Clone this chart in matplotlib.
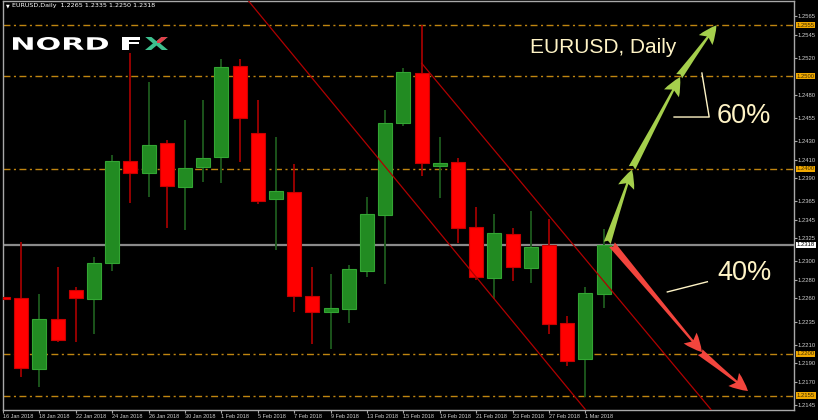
import matplotlib
matplotlib.use("Agg")
import numpy as np
import matplotlib.pyplot as plt
import matplotlib.transforms as mtransforms
from matplotlib.textpath import TextPath
from matplotlib.patches import PathPatch, Rectangle
from matplotlib.font_manager import FontProperties

W, H = 818, 420

# ---------------- data ----------------
dates = ["16 Jan", "17 Jan", "18 Jan", "19 Jan", "22 Jan", "23 Jan", "24 Jan", "25 Jan",
         "26 Jan", "29 Jan", "30 Jan", "31 Jan", "1 Feb", "2 Feb", "5 Feb", "6 Feb",
         "7 Feb", "8 Feb", "9 Feb", "12 Feb", "13 Feb", "14 Feb", "15 Feb", "16 Feb",
         "19 Feb", "20 Feb", "21 Feb", "22 Feb", "23 Feb", "26 Feb", "27 Feb", "28 Feb",
         "1 Mar", "2 Mar"]
opens = [1.2262, 1.2260, 1.2184, 1.2238, 1.2269, 1.2259, 1.2298, 1.2408,
         1.2395, 1.2428, 1.2380, 1.2402, 1.2413, 1.2511, 1.2439, 1.2367,
         1.2375, 1.2263, 1.2245, 1.2249, 1.2290, 1.2350, 1.2449, 1.2503,
         1.2403, 1.2407, 1.2337, 1.2282, 1.2330, 1.2293, 1.2318, 1.2233,
         1.2195, 1.2265]
highs = [1.2282, 1.2321, 1.2265, 1.2294, 1.2272, 1.2305, 1.2415, 1.2525,
         1.2494, 1.2431, 1.2453, 1.2474, 1.2519, 1.2519, 1.2474, 1.2434,
         1.2405, 1.2294, 1.2286, 1.2296, 1.2370, 1.2464, 1.2509, 1.2555,
         1.2434, 1.2412, 1.2359, 1.2351, 1.2336, 1.2354, 1.2346, 1.2241,
         1.2272, 1.2335]
lows = [1.2194, 1.2175, 1.2164, 1.2213, 1.2213, 1.2222, 1.2290, 1.2363,
        1.2370, 1.2336, 1.2334, 1.2386, 1.2385, 1.2407, 1.2362, 1.2312,
        1.2245, 1.2211, 1.2205, 1.2233, 1.2283, 1.2276, 1.2446, 1.2392,
        1.2368, 1.2320, 1.2280, 1.2259, 1.2279, 1.2277, 1.2222, 1.2187,
        1.2154, 1.2250]
closes = [1.2259, 1.2185, 1.2238, 1.2215, 1.2260, 1.2298, 1.2408, 1.2395,
          1.2426, 1.2381, 1.2401, 1.2412, 1.2510, 1.2455, 1.2365, 1.2376,
          1.2263, 1.2245, 1.2250, 1.2292, 1.2351, 1.2449, 1.2505, 1.2406,
          1.2406, 1.2336, 1.2283, 1.2331, 1.2294, 1.2316, 1.2232, 1.2192,
          1.2266, 1.2318]

xtick_idx = list(range(0, len(dates), 2))
xtick_labels = [dates[i] + " 2018" for i in xtick_idx]

ytick_values = [1.2565, 1.2545, 1.2520, 1.2480, 1.2455, 1.2430, 1.2410, 1.2390,
                1.2365, 1.2345, 1.2325, 1.2300, 1.2280, 1.2260, 1.2235, 1.2210,
                1.2190, 1.2170, 1.2145]
level_values = [1.2555, 1.2500, 1.2400, 1.2200, 1.2155]
last_price = 1.2318

upper_channel = [(23.0, 1.2514), (38.9, 1.2140)]
lower_channel = [(13.5, 1.2581), (32.0, 1.2140)]

green_arrows = [((33.2, 1.2320), (34.56, 1.2399)),
                ((34.56, 1.2401), (37.2, 1.2499)),
                ((37.15, 1.2500), (39.2, 1.2555))]
red_arrows = [((33.46, 1.2318), (38.4, 1.2202)),
              ((38.3, 1.2202), (40.93, 1.2160))]

pct_up_label, pct_down_label = "60%", "40%"
up_leader = ([38.4, 38.8, 36.87], [1.25034, 1.24559, 1.24559])
down_leader = ([36.5, 38.7], [1.2267, 1.2278])

# ---------------- figure ----------------
fig = plt.figure(figsize=(W / 100, H / 100), dpi=100, facecolor="black")
ax = fig.add_axes([3 / W, 10 / H, 791 / W, 409 / H])
ax.set_facecolor("black")
ax.set_xlim(0, 43.46)
ax.set_ylim(1.21395, 1.25812)

for sp in ax.spines.values():
    sp.set_color("#a8a8a8")
    sp.set_linewidth(1)

# levels
for v in level_values:
    ax.axhline(v, color="#c08510", lw=1.0, ls=(0, (5, 2.5, 1.5, 2.5)), zorder=1)
ax.axhline(last_price, color="#8a8a8a", lw=1.6, zorder=1)

# candles
x = np.arange(len(dates))
o = np.array(opens); c = np.array(closes); hi = np.array(highs); lo = np.array(lows)
up = c >= o
wick_col = np.where(up, "#1d5a1d", "#a00000")
ax.vlines(x, lo, hi, colors=list(wick_col), lw=1.3, zorder=2)
bottoms = np.minimum(o, c)
heights = np.maximum(np.abs(c - o), 0.00025)
ax.bar(x, heights, bottom=bottoms, width=0.77,
       color=np.where(up, "#228b22", "#ff0000"),
       edgecolor=np.where(up, "#33a533", "#c80000"), lw=0.8, zorder=3)

# channel
for line in (upper_channel, lower_channel):
    ax.plot([line[0][0], line[1][0]], [line[0][1], line[1][1]],
            color="#b00000", lw=0.9, zorder=4)

# arrows
style = "fancy,head_length=0.6,head_width=0.55,tail_width=0.24"
for tail, tip in green_arrows:
    ax.annotate("", xy=tip, xytext=tail, zorder=6,
                arrowprops=dict(arrowstyle=style, fc="#a5cf4c", ec="none",
                                shrinkA=0, shrinkB=0, mutation_scale=22))
for tail, tip in red_arrows:
    ax.annotate("", xy=tip, xytext=tail, zorder=6,
                arrowprops=dict(arrowstyle=style, fc="#f2453d", ec="none",
                                shrinkA=0, shrinkB=0, mutation_scale=22))

txt_col = "#fff4c6"
ax.text(28.95, 1.25315, "EURUSD, Daily", color=txt_col, fontsize=15,
        family="Liberation Sans", va="center", ha="left", zorder=7)
ax.text(39.2, 1.2457, pct_up_label, color=txt_col, fontsize=19.5,
        family="Liberation Sans", va="center", ha="left", zorder=7)
ax.text(39.25, 1.2287, pct_down_label, color=txt_col, fontsize=19.5,
        family="Liberation Sans", va="center", ha="left", zorder=7)
ax.plot(*up_leader, color=txt_col, lw=1, zorder=7)
ax.plot(*down_leader, color=txt_col, lw=1, zorder=7)

# axes ticks
ax.set_xticks(xtick_idx)
ax.set_xticklabels(xtick_labels, family="Liberation Sans")
for lbl in ax.get_xticklabels():
    lbl.set_ha("left")
ax.tick_params(axis="x", colors="#a8a8a8", labelcolor="#d0d0d0", length=2.5,
               width=0.8, pad=0.6, labelsize=4.0)
ax.yaxis.tick_right()
ax.set_yticks(ytick_values)
ax.set_yticklabels([f"{v:.4f}" for v in ytick_values], family="Liberation Sans")
ax.tick_params(axis="y", colors="#a8a8a8", labelcolor="#d0d0d0", length=2,
               width=0.8, pad=0.8, labelsize=4.2)

blend = mtransforms.blended_transform_factory(ax.transAxes, ax.transData)
for v in level_values:
    ax.text(1.0035, v, f"{v:.4f}", transform=blend, fontsize=4.2, color="#3a2a00",
            family="Liberation Sans", va="center", ha="left", zorder=10, clip_on=False,
            bbox=dict(boxstyle="square,pad=0.12", fc="#f0a800", ec="none"))
ax.text(1.0035, last_price, f"{last_price:.4f}", transform=blend, fontsize=4.2,
        family="Liberation Sans", color="black", va="center", ha="left", zorder=10,
        clip_on=False, bbox=dict(boxstyle="square,pad=0.12", fc="white", ec="none"))

# header
fig.text(6 / W, 1 - 6 / H, "▼", fontsize=3.5, color="white", va="center",
         family="DejaVu Sans")
fig.text(12 / W, 1 - 6 / H,
         f"EURUSD,Daily  {opens[-1]:.4f} {highs[-1]:.4f} {lows[-1]:.4f} {closes[-1]:.4f}",
         fontsize=4.6, color="white", va="center", family="DejaVu Sans")

# logo
fp = FontProperties(family="DejaVu Sans", weight="bold")


def logo_part(s, x0, x1, y0, y1, color, clip=None):
    tp = TextPath((0, 0), s, size=1, prop=fp)
    ext = tp.get_extents()
    sx = (x1 - x0) / ext.width
    sy = (y1 - y0) / ext.height
    tr = (mtransforms.Affine2D().translate(-ext.x0, -ext.y0).scale(sx, sy)
          .translate(x0, H - y1).scale(1 / W, 1 / H) + fig.transFigure)
    p = PathPatch(tp, transform=tr, fc=color, ec="none", zorder=20)
    fig.add_artist(p)
    if clip is not None:
        cx0, cx1, cy0, cy1 = clip
        r = Rectangle((cx0 / W, 1 - cy1 / H), (cx1 - cx0) / W, (cy1 - cy0) / H,
                      transform=fig.transFigure, visible=False)
        fig.add_artist(r)
        p.set_clip_path(r)
    return p


logo_part("NORD", 13, 108, 37, 50, "white")
logo_part("F", 122, 140, 37, 50, "white")
logo_part("X", 145, 168, 37, 50, "#3dbf8e")
logo_part("X", 145, 168, 37, 50, "#e0404a", clip=(157, 169, 36, 43))

fig.savefig("out.png", dpi=100, facecolor="black")
